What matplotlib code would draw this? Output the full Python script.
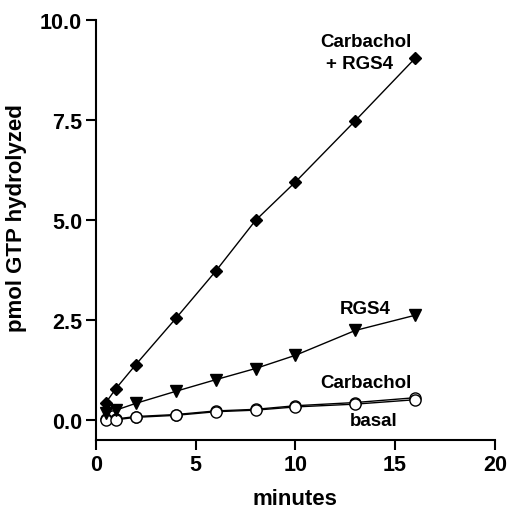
import matplotlib
matplotlib.use('Agg')
import matplotlib.pyplot as plt

# time points (minutes)
minutes = [0.5, 1, 2, 4, 6, 8, 10, 13, 16]

# pmol GTP hydrolyzed
carb_rgs4 = [0.44, 0.79, 1.39, 2.54, 3.72, 4.99, 5.95, 7.48, 9.04]
rgs4 = [0.19, 0.25, 0.42, 0.72, 1.01, 1.29, 1.62, 2.24, 2.62]
carbachol = [0.03, 0.03, 0.09, 0.14, 0.23, 0.27, 0.36, 0.44, 0.56]
basal = [0.01, 0.01, 0.07, 0.12, 0.21, 0.25, 0.33, 0.40, 0.51]

plt.rcParams['font.family'] = ['Liberation Sans', 'DejaVu Sans']
plt.rcParams['font.weight'] = 'bold'

fig = plt.figure(figsize=(5.08, 5.10), dpi=100)
ax = fig.add_axes([0.189, 0.135, 0.785, 0.824])

ax.plot(minutes, carbachol, color='black', lw=1.0, marker='o', ms=8,
        mfc='white', mec='black', mew=1.0, zorder=3)
ax.plot(minutes, basal, color='black', lw=1.0, marker='o', ms=8,
        mfc='white', mec='black', mew=1.0, zorder=3)
ax.plot(minutes, rgs4, color='black', lw=1.0, marker='v', ms=8,
        mfc='black', mec='black', zorder=3)
ax.plot(minutes, carb_rgs4, color='black', lw=1.0, marker='D', ms=6.5,
        mfc='black', mec='black', zorder=3)

# series labels
ax.text(13.55, 9.45, 'Carbachol', ha='center', va='center', fontsize=13.5, fontweight='bold')
ax.text(13.2, 8.9, '+ RGS4', ha='center', va='center', fontsize=13.5, fontweight='bold')
ax.text(13.5, 2.8, 'RGS4', ha='center', va='center', fontsize=13.5, fontweight='bold')
ax.text(13.55, 0.94, 'Carbachol', ha='center', va='center', fontsize=13.5, fontweight='bold')
ax.text(13.95, 0.0, 'basal', ha='center', va='center', fontsize=13.5, fontweight='bold')

ax.set_xlim(0, 20)
ax.set_ylim(-0.5, 10)
ax.set_xticks([0, 5, 10, 15, 20])
ax.set_yticks([0, 2.5, 5.0, 7.5, 10.0])
ax.set_yticklabels(['0.0', '2.5', '5.0', '7.5', '10.0'])

for s in ['top', 'right']:
    ax.spines[s].set_visible(False)
for s in ['left', 'bottom']:
    ax.spines[s].set_linewidth(1.5)

ax.tick_params(direction='out', length=7, width=1.5, labelsize=15.5, pad=3)
for lbl in ax.get_xticklabels() + ax.get_yticklabels():
    lbl.set_fontweight('bold')

ax.set_xlabel('minutes', fontsize=16, fontweight='bold', labelpad=9)
ax.set_ylabel('pmol GTP hydrolyzed', fontsize=16, fontweight='bold', labelpad=9)
ax.yaxis.label.set_y(0.53)

fig.savefig('out.png', dpi=100)
